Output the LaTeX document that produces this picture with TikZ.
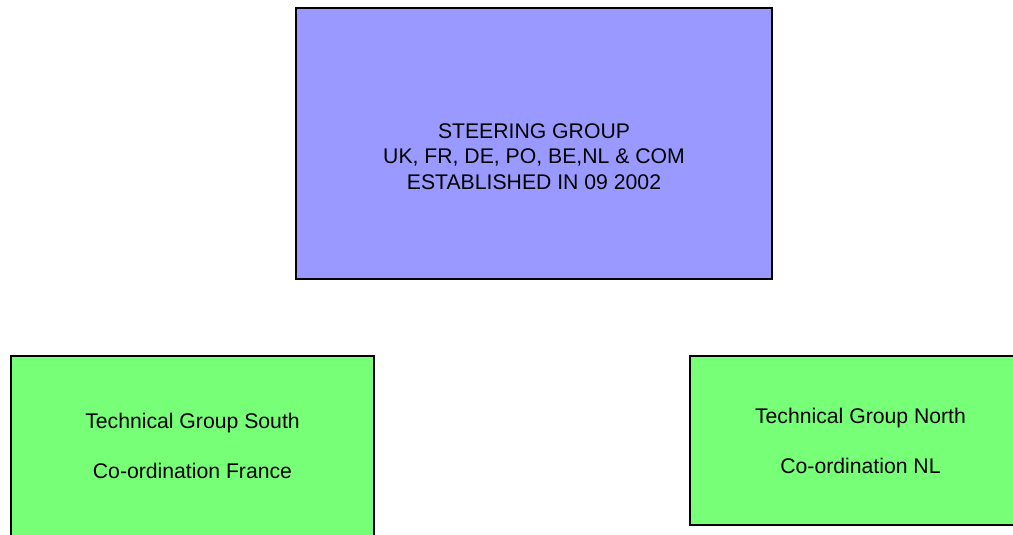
\documentclass[tikz,border=0pt]{standalone}
\usepackage{fontspec}
\setmainfont{Liberation Sans}
\definecolor{steerblue}{HTML}{9999FF}
\definecolor{techgreen}{HTML}{77FF77}
\begin{document}
\begin{tikzpicture}[x=1pt,y=-1pt,
  box/.style={draw=black,line width=1.3pt,inner sep=0pt},
  txt/.style={anchor=north,inner sep=0pt,align=center,font=\fontsize{21.2}{25.5}\selectfont}]
\useasboundingbox (0,0) rectangle (1013,535);
\clip (0,0) rectangle (1013,535);
\node[box,fill=steerblue,minimum width=476pt,minimum height=271pt] (steer) at (534,143.5) {};
\node[box,fill=techgreen,minimum width=363pt,minimum height=184pt] (south) at (192.5,448) {};
\node[box,fill=techgreen,minimum width=340pt,minimum height=169pt] (north) at (860,440.5) {};
\node[txt] (steertxt) at (534,123) {STEERING GROUP\\UK, FR, DE, PO, BE,NL \& COM\\ESTABLISHED IN 09 2002};
\node[txt,font=\fontsize{21.2}{25}\selectfont] (southtxt) at (192.5,412.7) {Technical Group South\\[25pt]Co-ordination France};
\node[txt,font=\fontsize{21.2}{25}\selectfont] (northtxt) at (860.5,407.7) {Technical Group North\\[25pt]Co-ordination NL};
\end{tikzpicture}
\end{document}
